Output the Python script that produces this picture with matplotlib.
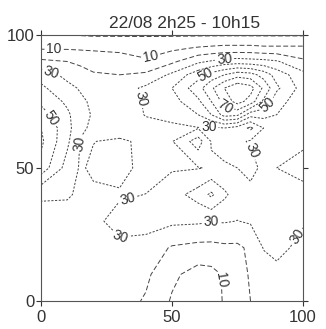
import numpy as np
import matplotlib
matplotlib.use("Agg")
import matplotlib.pyplot as plt

plt.rcParams['font.family'] = ['Liberation Sans', 'DejaVu Sans']

# grid of measured values (x across, y rows listed from top to bottom)
x_pos = [0, 10, 15, 20, 30, 40, 50, 60, 65, 70, 75, 80, 85, 90, 100]
y_pos = [100, 95, 90, 85, 80, 75, 70, 65, 60, 50, 40, 30, 20, 10, 0]
values = [
    [2, 0.5, -0.5, -1, -1, -1, -1, -1, -1, -1, -1, -1, -1, -1, -1],
    [9, 9, 8.7, 8.5, 8, 7, 8, 11, 12, 13, 13, 13, 12, 12, 12],
    [22, 20, 18, 16, 14, 11, 18, 28, 31, 34, 35, 34, 33, 31, 22],
    [36, 27, 24, 21, 20, 22, 32, 46, 54, 60, 66, 64, 56, 46, 33],
    [42, 33, 29, 26, 25, 32, 40, 56, 68, 80, 88, 84, 68, 52, 36],
    [48, 38, 32, 28, 25, 31, 36, 48, 60, 74, 84, 76, 58, 44, 34],
    [54, 42, 33.5, 29, 24, 30.5, 33, 40, 50, 64, 62, 44, 44, 40, 34],
    [60, 44, 31.5, 28.5, 25, 27, 28, 29.5, 28, 30, 26, 18, 30, 35, 33],
    [62, 42, 29.5, 29.8, 31.5, 28, 29.5, 45, 29.5, 27, 28, 31, 32, 34, 31],
    [56, 36, 29, 31.5, 33, 27, 29, 29.5, 31, 31, 30, 26, 33, 30, 28],
    [31, 31, 28.5, 28.5, 29, 30.1, 36, 44, 52, 42, 35, 34, 35, 34, 32],
    [27, 26, 27, 28, 33, 34, 32, 31.5, 30.5, 30.8, 29.8, 31, 33, 34, 31],
    [26, 26, 26.5, 27, 28, 26, 19, 17, 17, 18, 18, 22, 30.5, 33, 27],
    [26, 26, 26, 26, 26, 22, 12, 6, 7, 11, 16, 21, 25, 27, 25],
    [25, 25, 25, 25, 24, 19, 9, 4, 5, 11, 15, 20, 23, 25, 25],
]
plain_levels = [0, 20, 40, 60, 80]
labelled_levels = [10, 30, 50, 70]
label_spots = [(5, 94), (42, 91.5), (4, 86), (70, 92), (42, 77), (15, 59),
               (33, 39), (29, 22), (65, 30), (98, 24), (64, 67), (79, 56),
               (6, 70), (62, 87), (86, 74), (70, 72), (68, 8)]
title = "22/08 2h25 - 10h15"

X, Y = np.meshgrid(x_pos, y_pos)
Z = np.array(values, dtype=float)

fig = plt.figure(figsize=(3.26, 3.29), dpi=100)
ax = fig.add_axes([0.126, 0.085, 0.803, 0.809])

ink = '#444444'


def dashes(lv):
    # low levels drawn with long dashes, the rest with short ones
    return (0, (5, 2.5)) if lv <= 20 else (0, (2.2, 1.6))


ax.contour(X, Y, Z, levels=plain_levels, colors=ink, linewidths=0.7,
           linestyles=[dashes(lv) for lv in plain_levels])
cs = ax.contour(X, Y, Z, levels=labelled_levels, colors=ink, linewidths=0.7,
                linestyles=[dashes(lv) for lv in labelled_levels])
ax.clabel(cs, manual=label_spots, fontsize=10, fmt='%d', inline=True,
          inline_spacing=2, colors='#333333')

ax.set_xlim(0, 100)
ax.set_ylim(0, 100)
ax.set_xticks([0, 50, 100])
ax.set_yticks([0, 50, 100])
ax.tick_params(direction='out', length=3.5, width=0.8, colors='#333333',
               labelsize=12, top=True, right=True, pad=1.5)
ax.tick_params(axis='x', pad=3)
for sp in ax.spines.values():
    sp.set_color('#555555')
    sp.set_linewidth(0.8)

ax.set_title(title, fontsize=12.5, color='#333333', x=0.55, pad=5)

fig.savefig('out.png', dpi=100)
